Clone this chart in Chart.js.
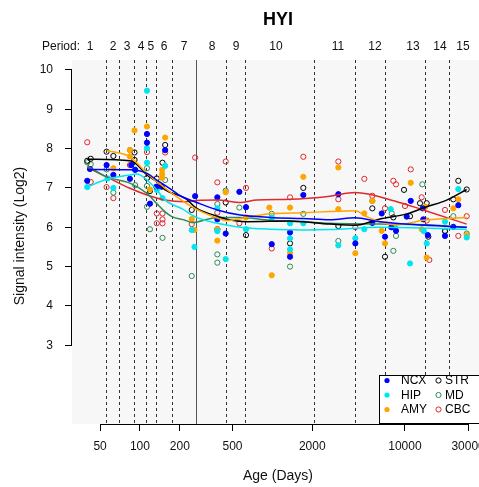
<!DOCTYPE html>
<html>
<head>
<meta charset="utf-8">
<script src="https://cdn.jsdelivr.net/npm/chart.js@4.4.1/dist/chart.umd.min.js"></script>
<style>
  html, body { margin: 0; padding: 0; background: #fff; overflow: hidden; }
  #wrap { width: 500px; height: 487px; }
</style>
</head>
<body>
<div id="wrap"><canvas id="c" width="500" height="487"></canvas></div>
<script>
const FONT = '"Liberation Sans", Arial, Helvetica, sans-serif';

const regions = ["NCX", "HIP", "AMY", "STR", "MD", "CBC"];
const regionColors = ["#0000FF", "#00E5EE", "#FFA500", "#000000", "#2E8B57", "#E0282E"];
const regionFilled = [true, true, true, false, false, false];

// samples: age (days) and signal (log2)
const ncxAge = [40, 42, 56, 63, 86, 84, 92, 113, 113, 119, 133, 155, 146, 261, 384, 384, 444, 563, 632, 988, 1358, 1358, 1711, 3145, 4227, 5677, 6683, 7077, 7900, 8570, 10320, 11070, 13630, 13770, 14900, 20080, 23200, 25310];
const ncxVal = [7.18, 7.48, 7.58, 7.33, 7.58, 7.23, 7.46, 8.37, 8.15, 6.6, 7.03, 7.96, 7.03, 6.79, 6.76, 6.2, 5.84, 6.9, 6.51, 5.57, 5.87, 5.25, 6.82, 6.84, 5.59, 6.11, 6.35, 5.76, 6.0, 5.91, 6.27, 6.67, 6.48, 6.2, 5.8, 5.78, 6.01, 6.56];

const hipAge = [40, 57, 63, 92, 113, 113, 113, 134, 155, 148, 246, 258, 384, 384, 444, 632, 988, 1358, 1358, 1358, 1711, 3145, 4227, 4940, 7816, 8420, 10930, 14610, 13900, 20080, 25310, 29280];
const hipVal = [7.02, 7.24, 7.0, 7.46, 9.47, 8.01, 7.64, 6.95, 7.56, 6.74, 5.93, 5.5, 6.48, 5.9, 5.19, 5.95, 6.25, 6.1, 5.72, 5.44, 6.1, 5.54, 5.72, 5.95, 6.46, 6.01, 5.08, 5.59, 5.9, 6.14, 6.97, 5.74];

const amyAge = [63, 91, 84, 84, 113, 119, 155, 147, 147, 147, 246, 258, 384, 384, 444, 632, 948, 988, 1358, 1358, 1711, 3145, 3145, 4227, 4940, 5677, 6683, 7077, 8100, 11070, 13390, 14610, 14300, 23200, 25310, 29280];
const amyVal = [7.5, 8.46, 7.96, 7.8, 8.56, 6.96, 8.28, 7.46, 7.35, 7.25, 6.21, 5.93, 5.95, 5.66, 6.89, 6.25, 6.5, 4.78, 6.5, 5.34, 7.28, 7.52, 6.46, 5.34, 6.35, 6.67, 5.91, 5.59, 6.0, 7.13, 5.95, 5.23, 6.52, 6.48, 6.71, 5.8];

const strAge = [40, 42.5, 56, 63, 91, 91, 113, 119, 134, 155, 148, 246, 444, 384, 632, 1358, 1711, 3145, 5677, 7077, 8180, 9850, 10930, 13000, 14610, 15020, 20080, 23200, 25310, 29280];
const strVal = [7.69, 7.74, 7.92, 7.81, 7.9, 7.71, 7.25, 6.92, 7.24, 8.09, 7.64, 6.44, 6.63, 5.95, 5.8, 5.59, 7.0, 6.03, 6.48, 5.25, 6.25, 6.95, 6.28, 6.61, 6.61, 5.76, 5.91, 6.71, 7.18, 6.96];

const mdAge = [40, 42.5, 56, 63, 84, 92, 113, 113, 113, 119, 155, 148, 246, 444, 384, 384, 384, 563, 988, 1358, 1711, 3145, 5677, 7953, 8570, 8180, 13540, 20080, 23200, 29280];
const mdVal = [7.65, 7.6, 7.47, 6.88, 7.96, 7.07, 7.5, 7.05, 6.52, 5.95, 7.2, 5.73, 4.76, 6.93, 6.59, 5.31, 5.1, 6.5, 6.34, 5.0, 6.34, 5.65, 6.67, 6.35, 5.78, 5.4, 7.09, 5.89, 6.28, 5.84];

const cbcAge = [40, 42.5, 56, 63, 84, 113, 134, 134, 148, 148, 148, 155, 261, 246, 384, 444, 384, 563, 632, 988, 1358, 1711, 3145, 3145, 4227, 4940, 5677, 7077, 8180, 8570, 10020, 11070, 13390, 14610, 15290, 20080, 25310, 29280];
const cbcVal = [8.16, 7.15, 7.02, 6.74, 7.58, 7.91, 6.35, 6.1, 6.35, 6.2, 6.1, 7.9, 7.77, 6.08, 7.14, 7.67, 6.37, 6.1, 7.0, 5.46, 6.76, 7.79, 7.67, 6.71, 6.0, 7.23, 6.8, 6.48, 7.18, 7.09, 6.54, 7.47, 6.76, 6.17, 5.17, 6.44, 5.78, 6.28];

// smoothed curves per region
const ncxFitAge = [40, 84, 113, 134, 174, 201, 268, 384, 570, 959, 1711, 2721, 4204, 6491, 11570, 29280];
const ncxFitVal = [7.47, 7.46, 7.37, 7.2, 6.95, 6.8, 6.63, 6.44, 6.31, 6.25, 6.22, 6.19, 6.24, 6.14, 6.07, 6.0];
const hipFitAge = [40, 56, 84, 95, 113, 134, 155, 210, 268, 384, 570, 959, 1711, 2721, 6491, 29280];
const hipFitVal = [7.02, 7.22, 7.33, 7.35, 7.2, 6.95, 6.69, 6.46, 6.25, 6.1, 6.0, 5.95, 5.93, 5.94, 6.0, 5.95];
const amyFitAge = [56, 84, 113, 150, 253, 380, 444, 640, 959, 1711, 2721, 4204, 5150, 6491, 8677, 13770, 29280];
const amyFitVal = [7.95, 7.79, 7.37, 7.03, 6.5, 6.24, 6.17, 6.25, 6.34, 6.37, 6.4, 6.42, 6.27, 6.14, 6.06, 6.18, 6.25];
const strFitAge = [40, 84, 92, 113, 134, 155, 219, 268, 358, 444, 640, 1358, 2721, 4204, 6491, 10320, 14610, 20680, 29280];
const strFitVal = [7.73, 7.69, 7.63, 7.33, 7.16, 6.95, 6.74, 6.48, 6.31, 6.21, 6.14, 6.16, 6.08, 6.05, 6.21, 6.34, 6.52, 6.69, 6.96];
const mdFitAge = [40, 56, 84, 113, 134, 155, 174, 219, 246, 384, 570, 959, 1711, 2721, 15470, 29280];
const mdFitVal = [7.56, 7.28, 7.12, 6.86, 6.6, 6.39, 6.27, 6.18, 6.12, 6.25, 6.25, 6.18, 6.14, 6.1, 6.06, 6.0];
const cbcFitAge = [40, 56, 84, 113, 155, 219, 268, 384, 570, 761, 1358, 2721, 4204, 8677, 13770, 29280];
const cbcFitVal = [7.52, 7.28, 6.99, 6.82, 6.69, 6.65, 6.68, 6.69, 6.63, 6.69, 6.71, 6.79, 6.88, 6.65, 6.44, 6.08];

const periodNames = ["1", "2", "3", "4", "5", "6", "7", "8", "9", "10", "11", "12", "13", "14", "15"];
const periodLabelAge = [42, 62.7, 80, 102, 121, 152, 215, 350, 531, 1065, 3130, 5950, 11515, 18400, 27450];
const periodBounds = [55.2, 69.6, 90.3, 111.2, 132.3, 174.8, 444, 625, 2072, 4227, 7115, 14260, 21410];
const birthAge = 265;
const xTicks = [50, 100, 200, 500, 2000, 10000, 30000];
const yTicks = [3, 4, 5, 6, 7, 8, 9, 10];

const sampleAges = [ncxAge, hipAge, amyAge, strAge, mdAge, cbcAge];
const sampleVals = [ncxVal, hipVal, amyVal, strVal, mdVal, cbcVal];
const fitAges = [ncxFitAge, hipFitAge, amyFitAge, strFitAge, mdFitAge, cbcFitAge];
const fitVals = [ncxFitVal, hipFitVal, amyFitVal, strFitVal, mdFitVal, cbcFitVal];

const pairs = (xs, ys) => xs.map((x, i) => ({ x: x, y: ys[i] }));

const datasets = [];
regions.forEach((r, i) => {
  datasets.push({
    type: 'line',
    label: r + ' fit',
    data: pairs(fitAges[i], fitVals[i]),
    borderColor: regionColors[i],
    borderWidth: 1.5,
    pointRadius: 0,
    fill: false,
    cubicInterpolationMode: 'monotone',
    order: 0
  });
});
regions.forEach((r, i) => {
  datasets.push({
    type: 'scatter',
    label: r,
    data: pairs(sampleAges[i], sampleVals[i]),
    pointRadius: 2.6,
    pointBorderWidth: 1,
    pointBackgroundColor: regionFilled[i] ? regionColors[i] : 'rgba(0,0,0,0)',
    pointBorderColor: regionColors[i],
    order: 1
  });
});

const decor = {
  id: 'decor',
  beforeDraw(chart) {
    const { ctx, chartArea: a } = chart;
    ctx.save();
    ctx.fillStyle = '#F7F7F7';
    ctx.fillRect(a.left, a.top, a.right - a.left, a.bottom - a.top);
    ctx.restore();
  },
  beforeDatasetsDraw(chart) {
    const { ctx, chartArea: a, scales: { x } } = chart;
    ctx.save();
    ctx.lineWidth = 1;
    ctx.strokeStyle = '#333';
    ctx.setLineDash([3, 3]);
    periodBounds.forEach(d => {
      const px = Math.round(x.getPixelForValue(d)) + 0.5;
      ctx.beginPath();
      ctx.moveTo(px, a.top);
      ctx.lineTo(px, a.bottom);
      ctx.stroke();
    });
    ctx.setLineDash([]);
    ctx.strokeStyle = '#555';
    const bx = Math.round(x.getPixelForValue(birthAge)) + 0.5;
    ctx.beginPath();
    ctx.moveTo(bx, a.top);
    ctx.lineTo(bx, a.bottom);
    ctx.stroke();
    ctx.restore();
  },
  afterDraw(chart) {
    const { ctx, chartArea: a, scales: { x, y } } = chart;
    ctx.save();
    // R style axis lines between first and last tick
    ctx.strokeStyle = '#000';
    ctx.lineWidth = 1;
    ctx.beginPath();
    ctx.moveTo(x.getPixelForValue(xTicks[0]), a.bottom + 0.5);
    ctx.lineTo(x.getPixelForValue(xTicks[xTicks.length - 1]), a.bottom + 0.5);
    ctx.moveTo(a.left - 0.5, y.getPixelForValue(yTicks[0]));
    ctx.lineTo(a.left - 0.5, y.getPixelForValue(yTicks[yTicks.length - 1]));
    ctx.stroke();

    // title
    ctx.fillStyle = '#000';
    ctx.textAlign = 'center';
    ctx.textBaseline = 'middle';
    ctx.font = 'bold 18px ' + FONT;
    ctx.fillText('HYI', (a.left + a.right) / 2, 20);

    // period labels
    ctx.font = '12px ' + FONT;
    ctx.fillStyle = '#111';
    ctx.textAlign = 'left';
    ctx.fillText('Period:', 42, 47);
    ctx.textAlign = 'center';
    periodNames.forEach((p, i) => {
      ctx.fillText(p, x.getPixelForValue(periodLabelAge[i]), 47);
    });

    // axis titles
    ctx.font = '14px ' + FONT;
    ctx.fillText('Age (Days)', (a.left + a.right) / 2, 476);
    ctx.save();
    ctx.translate(20, 236);
    ctx.rotate(-Math.PI / 2);
    ctx.fillText('Signal intensity (Log2)', 0, 0);
    ctx.restore();

    // legend
    const lx = 379.5, ly = 375.5, lw = 106, lh = 48;
    ctx.fillStyle = '#fff';
    ctx.fillRect(lx, ly, lw, lh);
    ctx.strokeStyle = '#000';
    ctx.strokeRect(lx, ly, lw, lh);
    ctx.font = '12px ' + FONT;
    ctx.textAlign = 'left';
    regions.forEach((r, i) => {
      const col = Math.floor(i / 3), row = i % 3;
      const mx = col === 0 ? 387 : 438.5;
      const my = 380.5 + row * 14.5;
      ctx.beginPath();
      ctx.arc(mx, my, 2.6, 0, Math.PI * 2);
      if (regionFilled[i]) {
        ctx.fillStyle = regionColors[i];
        ctx.fill();
      } else {
        ctx.strokeStyle = regionColors[i];
        ctx.stroke();
      }
      ctx.fillStyle = '#000';
      ctx.fillText(r, col === 0 ? 401 : 445, my + 0.5);
    });
    ctx.restore();
  }
};

new Chart(document.getElementById('c'), {
  data: { datasets: datasets },
  plugins: [decor],
  options: {
    responsive: false,
    animation: false,
    devicePixelRatio: 1,
    layout: { padding: { top: 60, right: 16, left: 0, bottom: 0 } },
    plugins: { legend: { display: false }, tooltip: { enabled: false }, title: { display: false } },
    scales: {
      x: {
        type: 'logarithmic',
        min: 30.7,
        max: 39550,
        afterFit: s => { s.height = 63; },
        afterBuildTicks: s => { s.ticks = xTicks.map(v => ({ value: v })); },
        border: { display: false },
        grid: { drawOnChartArea: false, drawTicks: true, tickLength: 7, color: '#000' },
        ticks: { color: '#111', font: { family: FONT, size: 12 }, padding: 8, maxRotation: 0, autoSkip: false, callback: v => String(v) }
      },
      y: {
        type: 'linear',
        min: 1,
        max: 10.25,
        afterFit: s => { s.width = 72; },
        afterBuildTicks: s => { s.ticks = yTicks.map(v => ({ value: v })); },
        border: { display: false },
        grid: { drawOnChartArea: false, drawTicks: true, tickLength: 7, color: '#000' },
        ticks: { color: '#111', font: { family: FONT, size: 12 }, padding: 12, callback: v => String(v) }
      }
    }
  }
});
</script>
</body>
</html>
